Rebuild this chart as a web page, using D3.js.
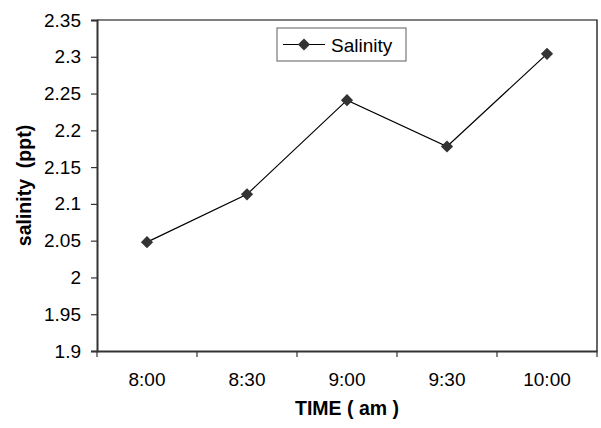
<!DOCTYPE html>
<html>
<head>
<meta charset="utf-8">
<script src="https://cdn.jsdelivr.net/npm/d3@7"></script>
<style>
  html, body { margin: 0; padding: 0; background: #fff; }
  svg { display: block; }
  text { font-family: "Liberation Sans", Arial, sans-serif; fill: #000; }
</style>
</head>
<body>
<svg id="chart" width="601" height="428"></svg>
<script>
// Salinity readings through the morning
const times = ["8:00", "8:30", "9:00", "9:30", "10:00"];
const salinity = [2.048, 2.113, 2.241, 2.178, 2.304];
const yTicks = [1.9, 1.95, 2, 2.05, 2.1, 2.15, 2.2, 2.25, 2.3, 2.35];
const seriesName = "Salinity";

const svg = d3.select("#chart");
const plotLeft = 97, plotRight = 597, plotTop = 20, plotBottom = 351;

const x = d3.scaleBand().domain(times).range([plotLeft, plotRight]);
const y = d3.scaleLinear().domain([1.9, 2.35]).range([plotBottom, plotTop]);

// plot frame: top and right edges
svg.append("path")
  .attr("d", `M${plotLeft},${plotTop}H${plotRight}V${plotBottom}`)
  .attr("fill", "none").attr("stroke", "#000").attr("stroke-width", 1.2);

// y axis
const yAxis = svg.append("g")
  .attr("transform", `translate(${plotLeft},0)`)
  .call(d3.axisLeft(y).tickValues(yTicks).tickSize(6).tickPadding(10)
    .tickFormat(d => String(+d.toFixed(2))));
yAxis.select(".domain").attr("stroke", "#333").attr("stroke-width", 2);
yAxis.selectAll(".tick line").attr("stroke", "#333").attr("stroke-width", 1.2);
yAxis.selectAll("text").attr("font-size", 19).attr("fill", "#000");

// x axis with ticks on category boundaries
const xAxis = svg.append("g")
  .attr("transform", `translate(0,${plotBottom})`)
  .call(d3.axisBottom(x).tickSize(0).tickPadding(22));
xAxis.select(".domain").attr("stroke", "#333").attr("stroke-width", 2);
xAxis.selectAll("text").attr("font-size", 19).attr("fill", "#000");
xAxis.selectAll(".bound")
  .data(times.map(t => x(t)).concat([x(times[times.length - 1]) + x.bandwidth()]))
  .join("line")
  .attr("class", "bound")
  .attr("x1", d => d).attr("x2", d => d)
  .attr("y1", 0).attr("y2", 6)
  .attr("stroke", "#333").attr("stroke-width", 1.2);

// axis titles
svg.append("text")
  .attr("transform", `translate(31,${(plotTop + plotBottom) / 2}) rotate(-90)`)
  .attr("text-anchor", "middle")
  .attr("font-size", 19.5).attr("font-weight", "bold")
  .attr("xml:space", "preserve")
  .text("salinity  (ppt)");
svg.append("text")
  .attr("x", (plotLeft + plotRight) / 2).attr("y", 415)
  .attr("text-anchor", "middle")
  .attr("font-size", 19.5).attr("font-weight", "bold")
  .attr("xml:space", "preserve")
  .text("TIME ( am )");

// series line and markers
const cx = i => x(times[i]) + x.bandwidth() / 2;
const line = d3.line().x((d, i) => cx(i)).y(d => y(d));
svg.append("path")
  .datum(salinity)
  .attr("d", line)
  .attr("fill", "none").attr("stroke", "#000").attr("stroke-width", 1.2);

const diamond = d3.symbol().type(d3.symbolDiamond2).size(95);
svg.selectAll(".pt")
  .data(salinity)
  .join("path")
  .attr("class", "pt")
  .attr("d", diamond)
  .attr("transform", (d, i) => `translate(${cx(i)},${y(d)})`)
  .attr("fill", "#333");

// legend
const lg = svg.append("g").attr("transform", "translate(277,28)");
lg.append("rect")
  .attr("x", 0).attr("y", 0).attr("width", 129).attr("height", 33)
  .attr("fill", "#fff").attr("stroke", "#777").attr("stroke-width", 1.2);
lg.append("line")
  .attr("x1", 6).attr("x2", 48).attr("y1", 16.5).attr("y2", 16.5)
  .attr("stroke", "#000").attr("stroke-width", 1.2);
lg.append("path")
  .attr("d", diamond)
  .attr("transform", "translate(27,16.5)")
  .attr("fill", "#333");
lg.append("text")
  .attr("x", 54).attr("y", 23.5)
  .attr("font-size", 19)
  .text(seriesName);
</script>
</body>
</html>
